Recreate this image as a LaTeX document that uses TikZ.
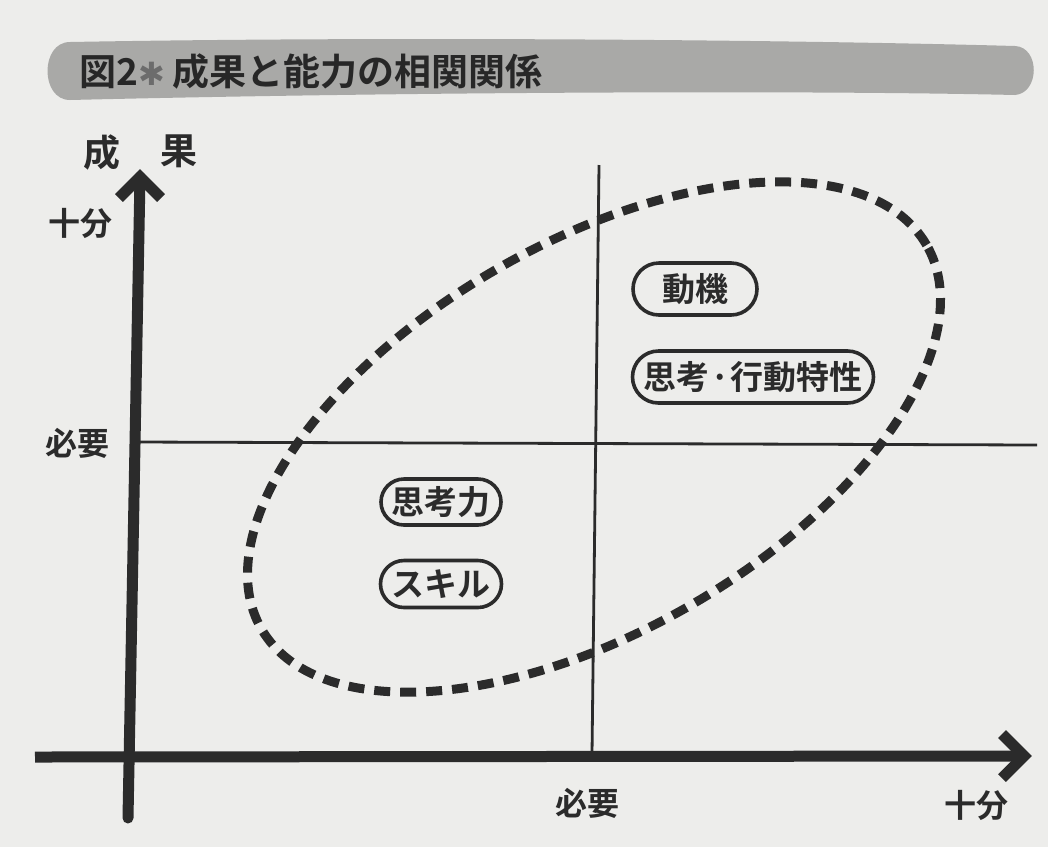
\documentclass[tikz,border=0pt]{standalone}
\usepackage{fontspec}
\usetikzlibrary{shapes.misc}
\newfontfamily\jp{Noto Sans CJK JP}[BoldFont={Noto Sans CJK JP Bold}]
\newfontfamily\dvs{DejaVu Sans}
\definecolor{paper}{HTML}{EDEDEB}
\definecolor{ink}{HTML}{2B2B2B}
\definecolor{band}{HTML}{A9A9A7}
\tikzset{
  axisline/.style={draw=ink, line width=11pt},
  chevron/.style={draw=ink, line width=11pt, line join=miter},
  guide/.style={draw=ink, line width=2.8pt},
  pill/.style={rounded rectangle, draw=ink, line width=3.6pt, fill=paper,
    text=ink, font=\jp\bfseries\fontsize{33}{33}\selectfont, inner xsep=6pt, inner ysep=0pt},
  lbl/.style={text=ink, font=\jp\bfseries\fontsize{32}{32}\selectfont, inner sep=0pt},
  dashring/.style={draw=ink, line width=9pt, dash pattern=on 16pt off 10pt}
}
\begin{document}
\begin{tikzpicture}[x=1pt, y=-1pt]
\useasboundingbox (0,0) rectangle (1048,847);
\fill[paper] (0,0) rectangle (1048,847);
% title band
\fill[band] (70,42) .. controls (400,36) and (800,40) .. (1015,46)
  .. controls (1040,47) and (1040,93) .. (1015,95)
  .. controls (800,90) and (400,92) .. (70,100)
  .. controls (40,100) and (40,42) .. (70,42) -- cycle;
\node[anchor=west, text=ink!90!black, font=\jp\bfseries\fontsize{37}{37}\selectfont, inner sep=0pt] (title) at (79,71)
  {図2{\dvs\bfseries\color{gray!85!black}\fontsize{32}{32}\selectfont ✱}\hspace{8pt}成果と能力の相関関係};
% coordinates
\coordinate (vbot) at (128,818);
\coordinate (vtip) at (140,177);
\coordinate (hleft) at (35,757);
\coordinate (htip) at (1024,756);
% guides
\coordinate (g1a) at (599,165);
\coordinate (g1b) at (592,754);
\coordinate (g2a) at (136,442);
\coordinate (g2b) at (1037,445);
\draw[guide] (g1a) -- (g1b);
\draw[guide] (g2a) -- (g2b);
% dashed ellipse
\coordinate (ec) at (594,437);
\draw[dashring, rotate around={30:(ec)}] (ec) ellipse [x radius=384pt, y radius=194pt];
% axes
\draw[axisline, line cap=round] (vbot) -- (vtip);
\draw[chevron] (119,198) -- (vtip) -- (161,198);
\draw[axisline] (hleft) -- (htip);
\draw[chevron] (1002,734) -- (htip) -- (1002,778);
% labels
\node[lbl, font=\jp\bfseries\fontsize{37}{37}\selectfont] (seika1) at (102,152) {成};
\node[lbl, font=\jp\bfseries\fontsize{37}{37}\selectfont] (seika2) at (179,151) {果};
\node[lbl] (yjubun) at (80,223) {十分};
\node[lbl] (yhitsuyo) at (77,443) {必要};
\node[lbl] (xhitsuyo) at (587,803) {必要};
\node[lbl] (xjubun) at (976,805) {十分};
% pills
\node[pill, minimum width=136pt, minimum height=52pt] (p1) at (695,289) {動機};
\node[pill, minimum width=253pt, minimum height=52pt] (p2) at (753,377) {思考\hspace{1pt}·\hspace{1pt}行動特性};
\node[pill, minimum width=132pt, minimum height=46pt] (p3) at (441,502) {思考力};
\node[pill, minimum width=133pt, minimum height=47pt] (p4) at (441,584) {スキル};
\end{tikzpicture}
\end{document}
